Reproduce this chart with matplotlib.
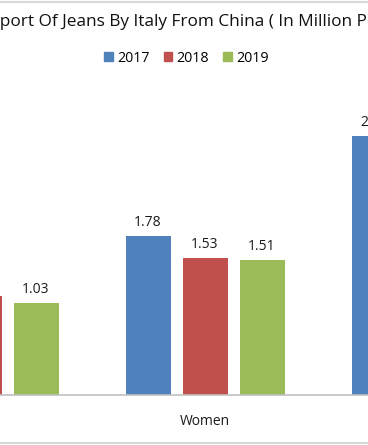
import matplotlib.pyplot as plt
from matplotlib.patches import Patch, Rectangle
import numpy as np

plt.rcParams['font.family'] = ['Open Sans', 'DejaVu Sans']

categories = ['Men', 'Women', 'Total']
years = ['2017', '2018', '2019']
v2017 = [1.14, 1.78, 2.90]
v2018 = [1.11, 1.53, 2.64]
v2019 = [1.03, 1.51, 2.54]
colors = ['#4F81BD', '#C0504D', '#9BBB59']

W, H = 368, 445
fig = plt.figure(figsize=(W / 100, H / 100), dpi=100)

# axes placed in pixels so the chart looks cropped like the reference
unit = 226.0      # px between categories
ppu = 89.3        # px per million
left_px = 205 - 1.5 * unit
ax = fig.add_axes([left_px / W, 50 / H, 3 * unit / W, 3.5 * ppu / H])
ax.set_xlim(-0.5, 2.5)
ax.set_ylim(0, 3.5)

x = np.arange(len(categories))
bw = 45 / unit
off = 57 / unit
for i, vals in enumerate([v2017, v2018, v2019]):
    bars = ax.bar(x + (i - 1) * off, vals, bw, color=colors[i], label=years[i])
    for b, v in zip(bars, vals):
        ax.annotate(f'{v:.2f}', (b.get_x() + b.get_width() / 2, v),
                    xytext=(0, 4.5), textcoords='offset points',
                    ha='center', va='bottom', fontsize=10, color='#1a1a1a')

for s in ['top', 'left', 'right']:
    ax.spines[s].set_visible(False)
ax.spines['bottom'].set_color('#C0C0C0')
ax.spines['bottom'].set_linewidth(1.2)
ax.set_yticks([])
ax.set_xticks(x)
ax.set_xticklabels(categories, fontsize=10, color='#1a1a1a')
ax.tick_params(axis='x', length=0, pad=14)

# legend
handles = [Patch(color=c, label=y) for c, y in zip(colors, years)]
fig.legend(handles=handles, loc='center', bbox_to_anchor=(186.5 / W, 1 - 58 / H),
           ncol=3, frameon=False, fontsize=10.3, handlelength=0.6, handleheight=0.6,
           handletextpad=0.3, columnspacing=1.0)

# title, cut on both sides like the reference
title = 'Import Of Jeans By Italy From China ( In Million Pounds )'
r = fig.canvas.get_renderer()
tmp = fig.text(0, 0, 'Im', fontsize=12.4)
w_im = tmp.get_window_extent(r).width
tmp.remove()
fig.text(-w_im / W, 1 - 26 / H, title, fontsize=12.4, ha='left', va='baseline',
         color='#111111')

# chart border (only top and bottom visible)
fig.patches.append(Rectangle((-10 / W, 2 / H), (W + 20) / W, (H - 3.5) / H,
                             transform=fig.transFigure, fill=False,
                             edgecolor='#D9D9D9', linewidth=1.5))

fig.savefig('out.png', dpi=100)
